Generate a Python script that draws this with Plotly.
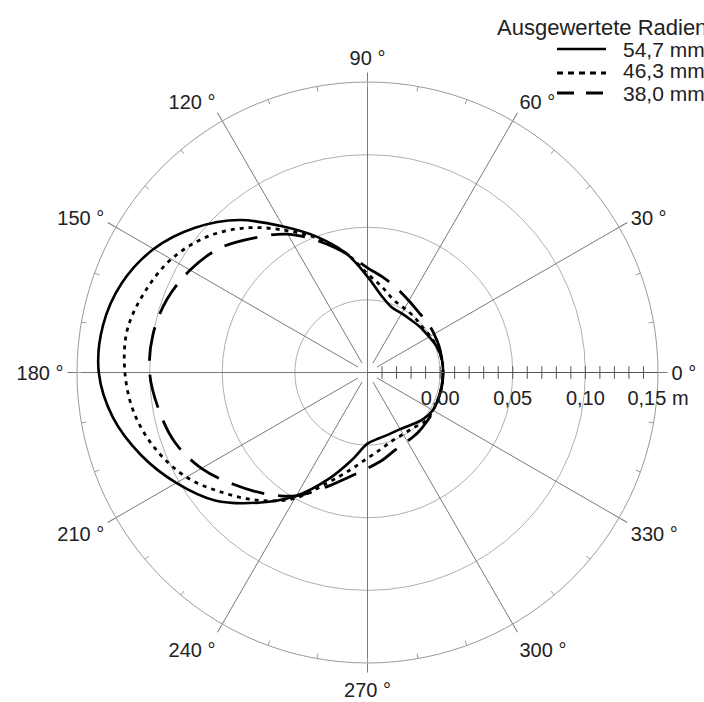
import numpy as np
import plotly.graph_objects as go

# ---- data ----
angles = list(range(0, 361, 10))
r_54_7 = [0.002, 0.002, 0.001, -0.001, -0.002, -0.003, -0.003, -0.002, 0.004, 0.016,
          0.033, 0.049, 0.066, 0.087, 0.105, 0.120, 0.130, 0.135, 0.135, 0.128,
          0.116, 0.102, 0.087, 0.067, 0.048, 0.028, 0.011, -0.001, -0.004, -0.005,
          -0.005, -0.003, 0.000, 0.002, 0.002, 0.002, 0.002]
r_46_3 = [0.002, 0.002, 0.001, 0.000, -0.001, 0.000, 0.001, 0.003, 0.0095, 0.018,
          0.033, 0.048, 0.063, 0.080, 0.095, 0.106, 0.113, 0.118, 0.117, 0.113,
          0.105, 0.094, 0.079, 0.065, 0.050, 0.031, 0.018, 0.009, 0.0035, 0.000,
          -0.001, -0.0005, 0.002, 0.002, 0.002, 0.002, 0.002]
r_38_0 = [0.002, 0.002, 0.0025, 0.003, 0.0037, 0.0045, 0.007, 0.011, 0.016, 0.022,
          0.033, 0.046, 0.060, 0.071, 0.083, 0.091, 0.097, 0.100, 0.100, 0.096,
          0.091, 0.082, 0.070, 0.059, 0.048, 0.034, 0.023, 0.016, 0.011, 0.0065,
          0.0048, 0.004, 0.003, 0.0025, 0.002, 0.002, 0.002]
series_names = ["54,7 mm", "46,3 mm", "38,0 mm"]
legend_title = "Ausgewertete Radien"

radial_tickvals = [0.0, 0.05, 0.10, 0.15]
radial_ticktext = ["0,00", "0,05", "0,10", "0,15 m"]
angle_tickvals = list(range(0, 360, 30))
angle_ticktext = [f"{a} °" for a in angle_tickvals]

R_MIN, R_MAX = -0.05, 0.15
FONT = "Liberation Sans, Arial, sans-serif"
GRID = "#9a9a9a"
AXIS = "#555555"
TXT = "#222222"

W, H = 704, 702
ML, MT, PLOT = 77, 82, 581


def px(xr):  # pixel x -> paper
    return (xr - ML) / PLOT


def py(yr):  # pixel y -> paper
    return (MT + PLOT - yr) / PLOT


fig = go.Figure()

# spokes every 30 degrees (diagonal ones leave a small gap at the centre)
sp_r, sp_t = [], []
for a in angle_tickvals:
    start = R_MIN if a % 90 == 0 else -0.0425
    sp_r += [start, R_MAX, None]
    sp_t += [a, a, None]
fig.add_trace(go.Scatterpolar(r=sp_r, theta=sp_t, mode="lines",
                              line=dict(color="#7a7a7a", width=1),
                              showlegend=False, hoverinfo="skip"))

# inner 10-degree ticks on the outer circle
mt_r, mt_t = [], []
for a in range(0, 360, 10):
    mt_r += [R_MAX - 0.0035, R_MAX, None]
    mt_t += [a, a, None]
fig.add_trace(go.Scatterpolar(r=mt_r, theta=mt_t, mode="lines",
                              line=dict(color=GRID, width=1),
                              showlegend=False, hoverinfo="skip"))

# small ticks on the radial axis every 0.01
rt = np.round(np.arange(-0.04, 0.1401, 0.01), 3)
fig.add_trace(go.Scatterpolar(r=rt, theta=[0] * len(rt), mode="markers",
                              marker=dict(symbol="line-ns", size=9,
                                          line=dict(color=AXIS, width=1)),
                              showlegend=False, hoverinfo="skip"))

styles = [dict(color="black", width=2.6, dash="solid"),
          dict(color="black", width=2.8, dash="4px,5px"),
          dict(color="black", width=2.8, dash="34px,14px")]
legend_dash = ["solid", "6px,5px", "17px,12px"]
legend_rows = [49, 71, 93]
for name, rv, st in zip(series_names, [r_54_7, r_46_3, r_38_0], styles):
    fig.add_trace(go.Scatterpolar(r=rv, theta=angles, mode="lines", name=name,
                                  showlegend=False,
                                  line=dict(shape="spline", smoothing=1, **st)))

# legend drawn by hand (compact rows like the original)
shapes, annotations = [], []
annotations.append(dict(text=legend_title, xref="paper", yref="paper",
                        x=px(495), y=py(27), xanchor="left", yanchor="middle",
                        showarrow=False, font=dict(size=22, color=TXT)))
for name, dsh, yrow, st in zip(series_names, legend_dash, legend_rows, styles):
    yl = yrow + (2 if dsh.startswith("6px") else 0)
    shapes.append(dict(type="line", xref="paper", yref="paper",
                       x0=px(557), x1=px(606), y0=py(yl), y1=py(yl),
                       line=dict(color="black", width=st["width"], dash=dsh)))
    annotations.append(dict(text=name, xref="paper", yref="paper",
                            x=px(621), y=py(yrow), xanchor="left", yanchor="middle",
                            showarrow=False, font=dict(size=21, color=TXT)))

fig.update_layout(
    width=W, height=H,
    paper_bgcolor="white", plot_bgcolor="white",
    margin=dict(l=ML, r=W - ML - PLOT, t=MT, b=H - MT - PLOT, autoexpand=False),
    font=dict(family=FONT, size=20, color=TXT),
    polar=dict(
        bgcolor="white",
        domain=dict(x=[0, 1], y=[0, 1]),
        radialaxis=dict(range=[R_MIN, R_MAX], angle=0, tickangle=0,
                        tickvals=radial_tickvals, ticktext=radial_ticktext,
                        showline=True, linecolor=AXIS, linewidth=1,
                        gridcolor="#b0b0b0", gridwidth=1,
                        ticks="outside", ticklen=8, tickcolor="rgba(0,0,0,0)",
                        tickfont=dict(size=20, color=TXT)),
        angularaxis=dict(rotation=0, direction="counterclockwise",
                         tickvals=angle_tickvals, ticktext=angle_ticktext,
                         showgrid=False, showline=True, linecolor=GRID, linewidth=1,
                         ticks="outside", ticklen=9, tickcolor="#7a7a7a",
                         tickfont=dict(size=20, color=TXT)),
    ),
    showlegend=False,
    shapes=shapes,
    annotations=annotations,
)

fig.write_html(
    "out.html",
    config={"displayModeBar": False},
    post_script="document.body.style.margin='0';"
                "document.documentElement.style.overflow='hidden';",
)
